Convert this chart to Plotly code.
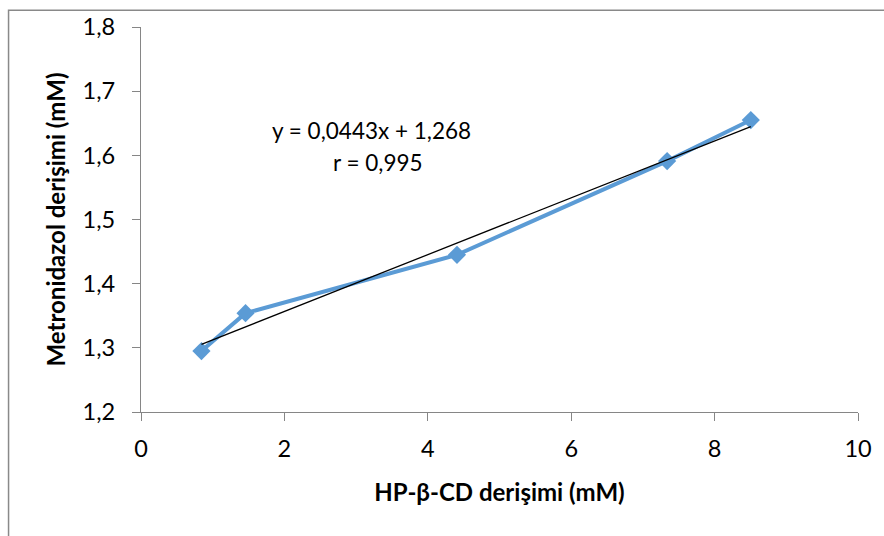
import plotly.graph_objects as go

# Data
x_vals = [0.843, 1.458, 4.407, 7.338, 8.505]
y_vals = [1.295, 1.354, 1.445, 1.591, 1.655]
slope = 0.0443
intercept = 1.268
eq_text = "y = 0,0443x + 1,268"
r_text = "r = 0,995"
x_title = "HP-β-CD derişimi (mM)"
y_title = "Metronidazol derişimi (mM)"
x_ticks = [0, 2, 4, 6, 8, 10]
y_ticks = [1.2, 1.3, 1.4, 1.5, 1.6, 1.7, 1.8]

trend_x = [min(x_vals), max(x_vals)]
trend_y = [slope * v + intercept for v in trend_x]

FONT = "Lato"
W, H = 884, 536
L, R, T, B = 141, 23, 22, 124
pw, ph = W - L - R, H - T - B

fig = go.Figure()
fig.add_trace(go.Scatter(
    x=x_vals, y=y_vals, mode="lines+markers",
    line=dict(color="#5B9BD5", width=4),
    marker=dict(symbol="diamond", size=14, color="#5B9BD5"),
    showlegend=False, hoverinfo="skip"))
fig.add_trace(go.Scatter(
    x=trend_x, y=trend_y, mode="lines",
    line=dict(color="black", width=1.3),
    showlegend=False, hoverinfo="skip"))

def px2paper_x(px):
    return (px - L) / pw

def px2paper_y(py):
    return (H - B - py) / ph

fig.add_annotation(x=px2paper_x(372), y=px2paper_y(127), xref="paper", yref="paper",
                   text=eq_text, showarrow=False, xanchor="center", yanchor="middle",
                   font=dict(family=FONT, size=22.5, color="black"))
fig.add_annotation(x=px2paper_x(379), y=px2paper_y(159), xref="paper", yref="paper",
                   text=r_text, showarrow=False, xanchor="center", yanchor="middle",
                   font=dict(family=FONT, size=22.5, color="black"))

# Outer chart border
fig.add_shape(type="rect", xref="paper", yref="paper",
              x0=px2paper_x(8), x1=px2paper_x(895), y0=px2paper_y(560), y1=px2paper_y(5),
              line=dict(color="#898989", width=1.5), fillcolor="rgba(0,0,0,0)", layer="below")

fig.update_layout(
    width=W, height=H,
    margin=dict(l=L, r=R, t=T, b=B, pad=0),
    paper_bgcolor="white", plot_bgcolor="white",
    separators=",.",
    font=dict(family=FONT, size=22, color="black"),
    xaxis=dict(range=[0, 10], tickvals=x_ticks, showgrid=False, zeroline=False,
               showline=True, linecolor="#868686", linewidth=1.3,
               ticks="outside", ticklen=8, tickcolor="#868686", tickwidth=1.3,
               tickfont=dict(family=FONT, size=23.5, color="black"),
               ticklabelstandoff=8,
               title=dict(text="<b>" + x_title + "</b>", standoff=22,
                          font=dict(family=FONT, size=24, color="black"))),
    yaxis=dict(range=[1.2, 1.8], tickvals=y_ticks, tickformat=".1f", showgrid=False, zeroline=False,
               showline=True, linecolor="#868686", linewidth=1.3,
               ticks="outside", ticklen=8, tickcolor="#868686", tickwidth=1.3,
               tickfont=dict(family=FONT, size=23.5, color="black"),
               ticklabelstandoff=12,
               title=dict(text="<b>" + y_title + "</b>", standoff=10,
                          font=dict(family=FONT, size=24, color="black"))),
)

fig.write_html("out.html")
